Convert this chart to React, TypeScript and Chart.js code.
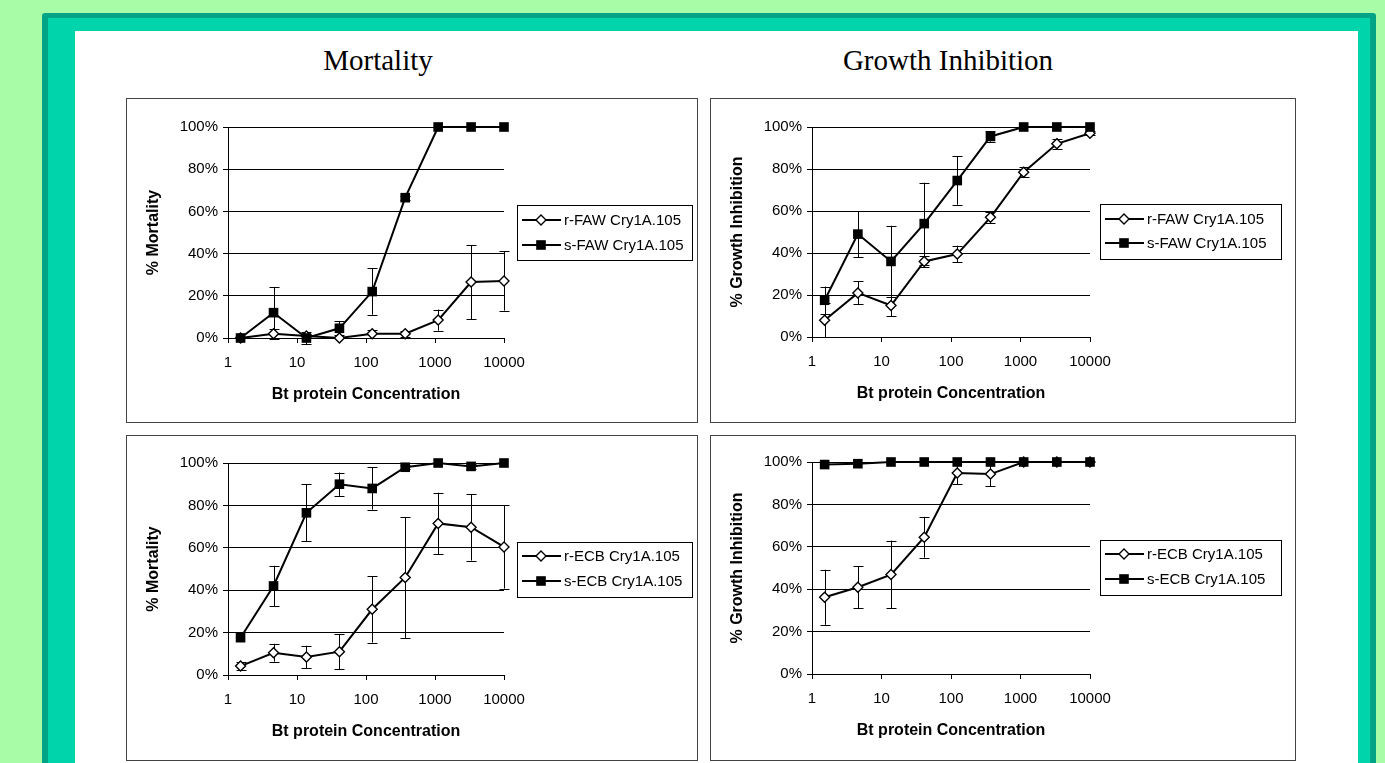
import React, { useEffect, useRef } from "react";
import { Chart, registerables } from "chart.js";
Chart.register(...registerables);

// ---------- data ----------
const concentrations = [1.52, 4.57, 13.7, 41.2, 123, 370, 1111, 3333, 10000];
const xTickValues = [1, 10, 100, 1000, 10000];
const yTickValues = [0, 20, 40, 60, 80, 100];

const panelTitles = ["Mortality", "Growth Inhibition"];
const yTitles = ["% Mortality", "% Growth Inhibition"];
const xTitle = "Bt protein Concentration";
const legendFaw = ["r-FAW Cry1A.105", "s-FAW Cry1A.105"];
const legendEcb = ["r-ECB Cry1A.105", "s-ECB Cry1A.105"];

// Mortality, FAW
const mortFawR = [0, 2, 1, 0, 2, 2, 8.5, 26.5, 27];
const mortFawRErr = [0, 2.5, 1, 0, 2, 1.5, 5, 17.5, 14];
const mortFawS = [0, 12, 0, 4.6, 22, 66.5, 100, 100, 100];
const mortFawSErr = [0, 12, 3, 3.4, 11, 1, 0, 0, 0];

// Growth inhibition, FAW
const growFawR = [8, 21, 15, 36, 39.5, 57, 78.5, 92, 97];
const growFawRErr = [8, 5.5, 5, 2.5, 4, 2.5, 2.5, 2.5, 1];
const growFawS = [17.5, 49, 36, 54, 74.5, 95.5, 100, 100, 100];
const growFawSErr = [6.5, 11, 17, 19.5, 11.5, 2.5, 0, 0, 0];

// Mortality, ECB
const mortEcbR = [4.2, 10.5, 8.5, 11, 31, 46, 71.5, 69.7, 60.4];
const mortEcbRErr = [2, 4.2, 5.3, 8.2, 15.7, 28.5, 14.5, 15.7, 19.6];
const mortEcbS = [17.6, 42, 76.5, 90, 88, 98, 100, 98.4, 100];
const mortEcbSErr = [0, 9.5, 13.5, 5.5, 10, 1, 0, 1, 0];

// Growth inhibition, ECB
const growEcbR = [36.2, 40.9, 46.9, 64.5, 94.8, 94.3, 100, 100, 100];
const growEcbRErr = [13, 10, 16, 9.6, 5.2, 5.8, 0, 0, 0];
const growEcbS = [98.8, 99.2, 100, 100, 100, 100, 100, 100, 100];
const growEcbSErr = [0, 0, 0, 0, 0, 0, 0, 0, 0];

// ---------- plugins ----------
const SANS = "'Liberation Sans', Arial, sans-serif";

const errorBarPlugin = {
  id: "errorBars",
  beforeDatasetsDraw(chart: any) {
    const { ctx, scales } = chart;
    const xs = scales.x;
    const ys = scales.y;
    ctx.save();
    ctx.strokeStyle = "#000";
    ctx.lineWidth = 1;
    chart.data.datasets.forEach((ds: any) => {
      if (!ds.errors) return;
      ds.data.forEach((p: any, i: number) => {
        const e = ds.errors[i];
        if (!e) return;
        const px = Math.round(xs.getPixelForValue(p.x)) + 0.5;
        const top = ys.getPixelForValue(p.y + e);
        const bot = ys.getPixelForValue(p.y - e);
        const cap = 5;
        ctx.beginPath();
        ctx.moveTo(px, top);
        ctx.lineTo(px, bot);
        ctx.moveTo(px - cap, Math.round(top) + 0.5);
        ctx.lineTo(px + cap, Math.round(top) + 0.5);
        ctx.moveTo(px - cap, Math.round(bot) + 0.5);
        ctx.lineTo(px + cap, Math.round(bot) + 0.5);
        ctx.stroke();
      });
    });
    ctx.restore();
  },
};

const boxLegendPlugin = {
  id: "boxLegend",
  afterDraw(chart: any, _args: any, opts: any) {
    const { ctx } = chart;
    const { x, y, w, h, rows } = opts;
    if (w == null) return;
    ctx.save();
    ctx.strokeStyle = "#000";
    ctx.lineWidth = 1;
    ctx.strokeRect(x + 0.5, y + 0.5, w, h);
    chart.data.datasets.forEach((ds: any, i: number) => {
      const ry = y + rows[i];
      ctx.beginPath();
      ctx.strokeStyle = "#000";
      ctx.lineWidth = 2;
      ctx.moveTo(x + 5, ry);
      ctx.lineTo(x + 44, ry);
      ctx.stroke();
      const mx = x + 24;
      if (ds.pointStyle === "rectRot") {
        const r = ds.pointRadius;
        ctx.beginPath();
        ctx.moveTo(mx, ry - r);
        ctx.lineTo(mx + r, ry);
        ctx.lineTo(mx, ry + r);
        ctx.lineTo(mx - r, ry);
        ctx.closePath();
        ctx.fillStyle = "#fff";
        ctx.fill();
        ctx.lineWidth = ds.pointBorderWidth;
        ctx.stroke();
      } else {
        const s = ds.pointRadius * Math.SQRT1_2;
        ctx.fillStyle = "#000";
        ctx.fillRect(mx - s, ry - s, 2 * s, 2 * s);
      }
      ctx.fillStyle = "#000";
      ctx.font = `15px ${SANS}`;
      ctx.textBaseline = "middle";
      ctx.textAlign = "left";
      ctx.fillText(ds.label, x + 47, ry + 1);
    });
    ctx.restore();
  },
};

type Rect = { l: number; t: number; w: number; h: number };
type Plot = { l: number; t: number; r: number; b: number };
type Leg = { l: number; t: number; w: number; h: number; rows: number[] };

function Panel(props: {
  box: Rect;
  plot: Plot;
  legend: Leg;
  labels: string[];
  rVals: number[];
  rErr: number[];
  sVals: number[];
  sErr: number[];
  yTitle: string;
}) {
  const { box, plot, legend, labels, rVals, rErr, sVals, sErr, yTitle } = props;
  const ref = useRef<HTMLCanvasElement>(null);
  const cw = box.w - 2;
  const ch = box.h - 2;
  const cl = box.l + 1;
  const ct = box.t + 1;

  useEffect(() => {
    if (!ref.current) return;
    const yW = plot.l - cl;
    const xH = ct + ch - plot.b;
    const padTop = plot.t - ct;
    const padRight = cl + cw - plot.r;
    const tickFont = { family: SANS, size: 15 };
    const titleFont = { family: SANS, size: 16, weight: "bold" as const };
    const chart = new Chart(ref.current, {
      type: "line",
      data: {
        datasets: [
          {
            label: labels[0],
            data: concentrations.map((x, i) => ({ x, y: rVals[i] })),
            errors: rErr,
            borderColor: "#000",
            borderWidth: 2,
            pointStyle: "rectRot",
            pointRadius: 5,
            pointHoverRadius: 5,
            pointBackgroundColor: "#fff",
            pointBorderColor: "#000",
            pointBorderWidth: 1.4,
            tension: 0,
            clip: false,
            order: 1,
          } as any,
          {
            label: labels[1],
            data: concentrations.map((x, i) => ({ x, y: sVals[i] })),
            errors: sErr,
            borderColor: "#000",
            borderWidth: 2,
            pointStyle: "rect",
            pointRadius: 6.8,
            pointHoverRadius: 6.8,
            pointBackgroundColor: "#000",
            pointBorderColor: "#000",
            pointBorderWidth: 0,
            tension: 0,
            clip: false,
            order: 0,
          } as any,
        ],
      },
      options: {
        animation: false,
        responsive: false,
        maintainAspectRatio: false,
        events: [],
        layout: { padding: { top: padTop, right: padRight, left: 0, bottom: 0 } },
        plugins: {
          legend: { display: false },
          tooltip: { enabled: false },
          boxLegend: {
            x: legend.l - cl,
            y: legend.t - ct,
            w: legend.w,
            h: legend.h,
            rows: legend.rows,
          },
        } as any,
        scales: {
          x: {
            type: "logarithmic",
            min: 1,
            max: 10000,
            afterBuildTicks: (s: any) => {
              s.ticks = xTickValues.map((v) => ({ value: v }));
            },
            afterFit: (s: any) => {
              s.height = xH;
            },
            ticks: {
              callback: (v: any) => String(v),
              font: tickFont,
              color: "#000",
              padding: 11,
              autoSkip: false,
              maxRotation: 0,
            },
            grid: { drawOnChartArea: false, drawTicks: true, tickLength: 5, color: "#000" },
            border: { display: true, color: "#000", width: 1 },
            title: {
              display: true,
              text: xTitle,
              font: titleFont,
              color: "#000",
              padding: { top: 0, bottom: xH - 57 - 9.6 },
            },
          },
          y: {
            type: "linear",
            min: 0,
            max: 100,
            afterBuildTicks: (s: any) => {
              s.ticks = yTickValues.map((v) => ({ value: v }));
            },
            afterFit: (s: any) => {
              s.width = yW;
            },
            ticks: {
              callback: (v: any) => `${v}%`,
              font: tickFont,
              color: "#000",
              padding: 5,
            },
            grid: { color: "#000", lineWidth: 1, tickLength: 5, drawTicks: true },
            border: { display: true, color: "#000", width: 1 },
            title: {
              display: true,
              text: yTitle,
              font: titleFont,
              color: "#000",
              padding: { top: yW - 74 - 9.6, bottom: 0 },
            },
          },
        },
      } as any,
      plugins: [errorBarPlugin, boxLegendPlugin],
    });
    return () => chart.destroy();
  }, []);

  return (
    <div
      style={{
        position: "absolute",
        left: box.l,
        top: box.t,
        width: cw,
        height: ch,
        border: "1px solid #444",
        background: "#fff",
      }}
    >
      <canvas ref={ref} width={cw} height={ch} style={{ display: "block", width: cw, height: ch }} />
    </div>
  );
}

const titleStyle = (cx: number): React.CSSProperties => ({
  position: "absolute",
  left: cx - 200,
  width: 400,
  top: 42,
  height: 36,
  lineHeight: "36px",
  textAlign: "center",
  fontFamily: "'Liberation Serif', 'Times New Roman', serif",
  fontSize: 29,
  color: "#000",
});

export default function App() {
  return (
    <div
      style={{
        position: "fixed",
        left: 0,
        top: 0,
        width: 1385,
        height: 763,
        overflow: "hidden",
        background: "#a8fba7",
      }}
    >
      <div
        style={{
          position: "absolute",
          left: 42,
          top: 13,
          width: 1334,
          height: 800,
          background: "#00a385",
          borderRadius: "3px 3px 0 0",
        }}
      />
      <div
        style={{
          position: "absolute",
          left: 48,
          top: 18,
          width: 1322,
          height: 800,
          background: "#00d4aa",
        }}
      />
      <div
        style={{
          position: "absolute",
          left: 75,
          top: 31,
          width: 1283,
          height: 800,
          background: "#fff",
        }}
      />
      <div style={titleStyle(378)}>{panelTitles[0]}</div>
      <div style={titleStyle(948)}>{panelTitles[1]}</div>

      <Panel
        box={{ l: 126, t: 98, w: 572, h: 325 }}
        plot={{ l: 228, t: 127, r: 504, b: 338 }}
        legend={{ l: 517, t: 205, w: 175, h: 55, rows: [15, 40] }}
        labels={legendFaw}
        rVals={mortFawR}
        rErr={mortFawRErr}
        sVals={mortFawS}
        sErr={mortFawSErr}
        yTitle={yTitles[0]}
      />
      <Panel
        box={{ l: 710, t: 98, w: 586, h: 325 }}
        plot={{ l: 812, t: 127, r: 1090, b: 337 }}
        legend={{ l: 1100, t: 204, w: 181, h: 55, rows: [15, 39] }}
        labels={legendFaw}
        rVals={growFawR}
        rErr={growFawRErr}
        sVals={growFawS}
        sErr={growFawSErr}
        yTitle={yTitles[1]}
      />
      <Panel
        box={{ l: 126, t: 435, w: 572, h: 326 }}
        plot={{ l: 228, t: 463, r: 504, b: 675 }}
        legend={{ l: 517, t: 542, w: 175, h: 55, rows: [14, 39] }}
        labels={legendEcb}
        rVals={mortEcbR}
        rErr={mortEcbRErr}
        sVals={mortEcbS}
        sErr={mortEcbSErr}
        yTitle={yTitles[0]}
      />
      <Panel
        box={{ l: 710, t: 435, w: 586, h: 326 }}
        plot={{ l: 812, t: 462, r: 1090, b: 674 }}
        legend={{ l: 1100, t: 540, w: 181, h: 55, rows: [14, 39] }}
        labels={legendEcb}
        rVals={growEcbR}
        rErr={growEcbRErr}
        sVals={growEcbS}
        sErr={growEcbSErr}
        yTitle={yTitles[1]}
      />
    </div>
  );
}
